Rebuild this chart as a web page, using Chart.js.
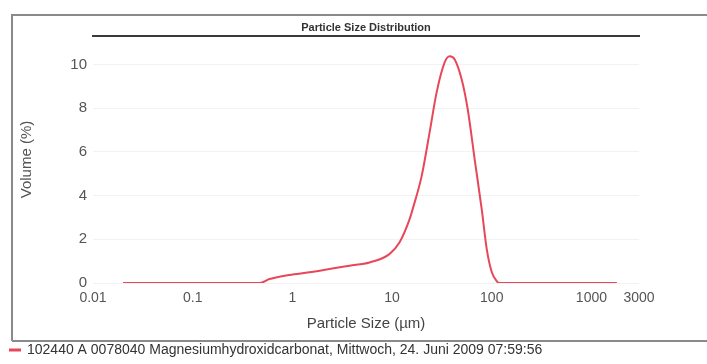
<!DOCTYPE html>
<html>
<head>
<meta charset="utf-8">
<script src="https://cdn.jsdelivr.net/npm/chart.js@4"></script>
<style>
  html, body { margin: 0; padding: 0; background: #fff; }
  canvas { display: block; }
</style>
</head>
<body>
<canvas id="psdChart" width="707" height="364"></canvas>
<script>
/* particle size distribution data */
const sizes = [0.02, 0.1, 0.47, 0.59, 0.93, 1.48, 2.35, 3.74, 5.94, 9.4, 11.9, 15.0, 16.1, 19.8, 23.8, 28.0, 33.7, 37.8, 42.5, 49.9, 57.4, 67.4, 79.3, 89.1, 100, 112, 120, 1800];
const volumes = [0, 0, 0, 0.18, 0.37, 0.49, 0.64, 0.79, 0.94, 1.32, 1.86, 2.92, 3.38, 4.89, 6.89, 8.72, 10.09, 10.37, 10.23, 9.32, 7.95, 5.66, 3.38, 1.55, 0.5, 0.09, 0, 0];

const xTickValues = [0.01, 0.1, 1, 10, 100, 1000, 3000];
const xTickLabels = ["0.01", "0.1", "1", "10", "100", "1000", "3000"];
const yTickValues = [0, 2, 4, 6, 8, 10];

const seriesLabel = "102440 A 0078040 Magnesiumhydroxidcarbonat, Mittwoch, 24. Juni 2009 07:59:56";
const FONT = "'Liberation Sans', Arial, sans-serif";

// white page + scanned frame (no right edge in the scan)
const framePlugin = {
    id: 'frame',
    beforeDraw(chart) {
        const ctx = chart.ctx;
        ctx.save();
        ctx.fillStyle = '#fff';
        ctx.fillRect(0, 0, chart.width, chart.height);
        ctx.strokeStyle = '#8a8a8a';
        ctx.lineWidth = 2;
        ctx.beginPath();
        ctx.moveTo(12, 341);
        ctx.lineTo(12, 15);
        ctx.lineTo(707, 15);
        ctx.stroke();
        ctx.beginPath();
        ctx.moveTo(12, 341);
        ctx.lineTo(707, 341);
        ctx.stroke();
        ctx.restore();
    }
};

const pts = sizes.map((s, i) => ({ x: s, y: volumes[i] }));

const CHART = document.getElementById("psdChart");
let psdChart = new Chart(CHART, {
    type: 'line',
    data: {
        datasets: [
            {
                label: seriesLabel,
                data: pts,
                borderColor: "#e8475a",
                backgroundColor: "#e8475a",
                borderWidth: 2,
                pointRadius: 0,
                fill: false,
                cubicInterpolationMode: 'monotone'
            }
        ]
    },
    options: {
        responsive: false,
        animation: false,
        layout: { padding: { left: 8, right: 68, top: 0, bottom: -3 } },
        plugins: {
            title: { display: false },
            tooltip: { enabled: false },
            legend: {
                display: true,
                position: 'bottom',
                align: 'start',
                labels: {
                    boxWidth: 10,
                    boxHeight: 1,
                    padding: 2,
                    color: '#333',
                    font: { family: FONT, size: 14 }
                }
            }
        },
        scales: {
            x: {
                type: 'logarithmic',
                position: 'bottom',
                min: 0.01,
                max: 3000,
                afterBuildTicks: (scale) => { scale.ticks = xTickValues.map(v => ({ value: v })); },
                afterFit: (scale) => { scale.height = 58; },
                grid: { display: false, drawTicks: false },
                border: { display: false },
                ticks: {
                    autoSkip: false,
                    maxRotation: 0,
                    padding: 7,
                    color: '#555',
                    font: { family: FONT, size: 14 },
                    callback: (v) => {
                        const i = xTickValues.indexOf(v);
                        return i >= 0 ? xTickLabels[i] : '';
                    }
                },
                title: {
                    display: true,
                    text: 'Particle Size (µm)',
                    color: '#444',
                    font: { family: FONT, size: 15 },
                    padding: { top: 0, bottom: 8 }
                }
            },
            x2: {
                type: 'linear',
                position: 'top',
                min: 0,
                max: 1,
                afterFit: (scale) => { scale.height = 36; },
                grid: { display: false, drawTicks: false },
                border: { display: true, color: '#3a3a3a', width: 2 },
                ticks: { display: false },
                title: {
                    display: true,
                    text: 'Particle Size Distribution',
                    color: '#333',
                    font: { family: FONT, size: 11, weight: 'bold' },
                    padding: { top: 21, bottom: 0 }
                }
            },
            y: {
                min: 0,
                max: 11.3,
                afterBuildTicks: (scale) => { scale.ticks = yTickValues.map(v => ({ value: v })); },
                afterFit: (scale) => { scale.width = 85; },
                grid: { color: 'rgba(0,0,0,0.05)', drawTicks: false },
                border: { display: false },
                ticks: {
                    padding: 6,
                    color: '#555',
                    font: { family: FONT, size: 15 }
                },
                title: {
                    display: true,
                    text: 'Volume (%)',
                    color: '#555',
                    font: { family: FONT, size: 15 },
                    padding: { top: 10, bottom: 0 }
                }
            }
        }
    },
    plugins: [framePlugin]
});
</script>
</body>
</html>
